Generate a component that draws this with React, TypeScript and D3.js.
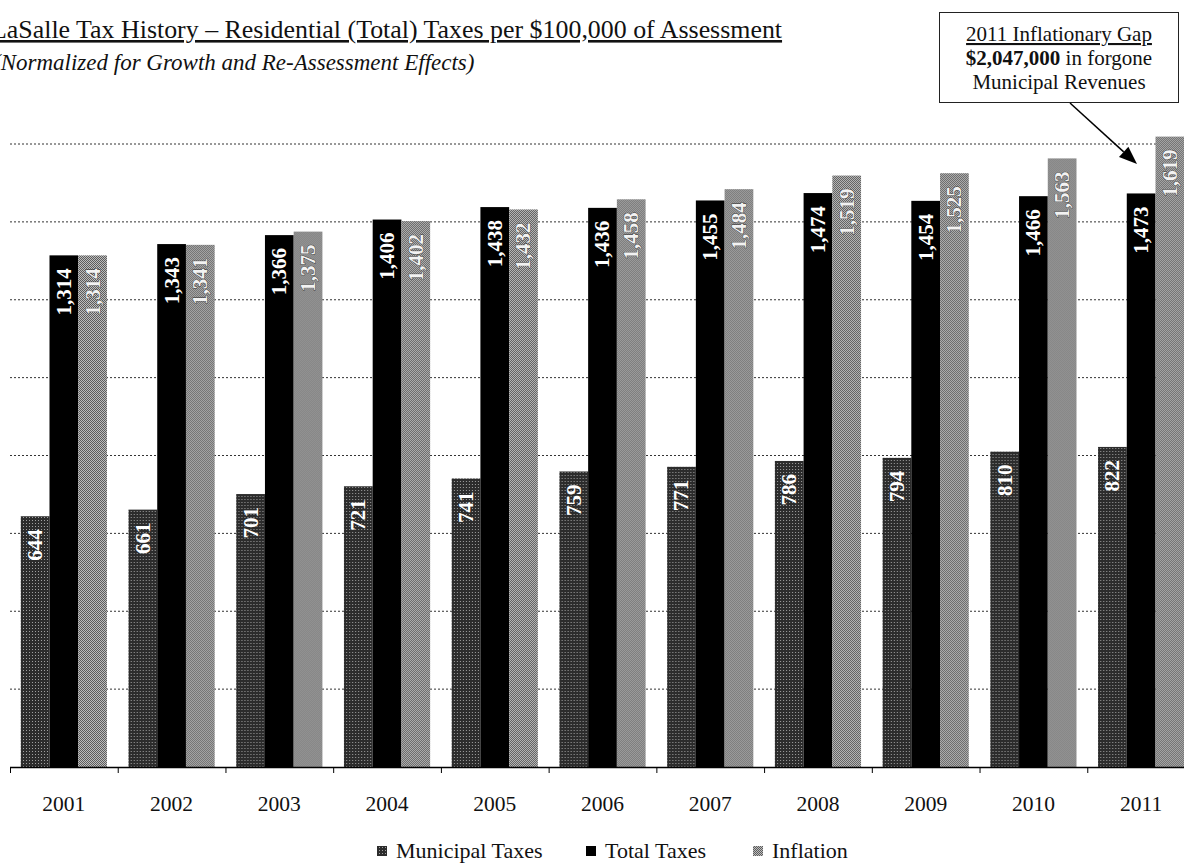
import React from 'react';
import * as d3 from 'd3';

const years = ['2001', '2002', '2003', '2004', '2005', '2006', '2007', '2008', '2009', '2010', '2011'];
const municipalTaxes = [644, 661, 701, 721, 741, 759, 771, 786, 794, 810, 822];
const totalTaxes = [1314, 1343, 1366, 1406, 1438, 1436, 1455, 1474, 1454, 1466, 1473];
const inflation = [1314, 1341, 1375, 1402, 1432, 1458, 1484, 1519, 1525, 1563, 1619];
const seriesNames = ['Municipal Taxes', 'Total Taxes', 'Inflation'];
const yTicks = [0, 200, 400, 600, 800, 1000, 1200, 1400, 1600];

const W = 1184;
const H = 863;
const FONT = '"Liberation Serif", "Times New Roman", serif';

export default function App() {
  const seriesValues = [municipalTaxes, totalTaxes, inflation];
  const fills = ['url(#patMun)', '#000', 'url(#patInf)'];
  const labelFill = ['#fff', '#fff', '#f2f2f2'];
  const labelStroke = ['none', 'none', '#333'];

  const x0 = d3.scaleBand<string>().domain(years).range([10, 1195]).paddingInner(0).paddingOuter(0);
  const bw = x0.bandwidth();
  const x1 = d3.scaleBand<string>().domain(seriesNames).range([bw * 0.1, bw * 0.9]).padding(0);
  const y = d3.scaleLinear().domain([0, 1600]).range([767, 144]);
  const fmt = d3.format(',');
  const labelSize = 21;
  const capH = labelSize * 0.66;

  // arrow geometry (annotation)
  const a0 = [1070, 103];
  const a1 = [1137, 164];
  const ang = Math.atan2(a1[1] - a0[1], a1[0] - a0[0]);
  const hl = 18, hw = 7;
  const bx = a1[0] - hl * Math.cos(ang);
  const by = a1[1] - hl * Math.sin(ang);
  const head = [
    [a1[0], a1[1]],
    [bx + hw * Math.sin(ang), by - hw * Math.cos(ang)],
    [bx - hw * Math.sin(ang), by + hw * Math.cos(ang)],
  ];

  const legendX = [377, 586, 753];

  return (
    <svg width={W} height={H} style={{ position: 'absolute', left: 0, top: 0, background: '#fff' }} fontFamily={FONT}>
      <defs>
        <pattern id="patMun" width="3" height="3" patternUnits="userSpaceOnUse">
          <rect width="3" height="3" fill="#2c2c2c" />
          <rect x="1" y="1" width="1" height="1" fill="#a0a0a0" />
        </pattern>
        <pattern id="patInf" width="2" height="2" patternUnits="userSpaceOnUse">
          <rect width="2" height="2" fill="#5c5c5c" />
          <rect x="1" y="0" width="1" height="1" fill="#bdbdbd" />
          <rect x="0" y="1" width="1" height="1" fill="#bdbdbd" />
        </pattern>
      </defs>
      <rect width={W} height={H} fill="#fff" />

      {/* Title */}
      <text x={-9} y={38} fontSize={25.9} fill="#111" textDecoration="underline">
        LaSalle Tax History – Residential (Total) Taxes per $100,000 of Assessment
      </text>
      <text x={-7} y={70} fontSize={23} fontStyle="italic" fill="#111">
        (Normalized for Growth and Re-Assessment Effects)
      </text>

      {/* gridlines */}
      {yTicks.slice(1).map((t) => (
        <line key={t} x1={10} x2={W} y1={y(t)} y2={y(t)} stroke="#333" strokeWidth={1} strokeDasharray="2,2" />
      ))}

      {/* bars */}
      {years.map((yr, i) => (
        <g key={yr} transform={`translate(${x0(yr)},0)`}>
          {seriesNames.map((s, k) => {
            const v = seriesValues[k][i];
            const bx0 = x1(s)!;
            const top = y(v);
            const cx = bx0 + x1.bandwidth() / 2;
            return (
              <g key={s}>
                <rect x={bx0} y={top} width={x1.bandwidth()} height={y(0) - top} fill={fills[k]} />
                <text
                  transform={`translate(${cx + capH / 2},${top + 13}) rotate(-90)`}
                  textAnchor="end"
                  fontSize={labelSize}
                  fontWeight="bold"
                  fill={labelFill[k]}
                  stroke={labelStroke[k]}
                  strokeWidth={labelStroke[k] === 'none' ? 0 : 0.8}
                  style={{ paintOrder: 'stroke' }}
                >
                  {fmt(v)}
                </text>
              </g>
            );
          })}
        </g>
      ))}

      {/* x axis */}
      <line x1={10} x2={W} y1={767.5} y2={767.5} stroke="#000" strokeWidth={1.5} />
      {years.map((yr) => (
        <line key={'t' + yr} x1={x0(yr)! + 0.5} x2={x0(yr)! + 0.5} y1={767} y2={773} stroke="#000" strokeWidth={1} />
      ))}
      {years.map((yr) => (
        <text key={'l' + yr} x={x0(yr)! + bw / 2} y={811} fontSize={21.5} textAnchor="middle" fill="#111">
          {yr}
        </text>
      ))}

      {/* legend */}
      {seriesNames.map((s, k) => (
        <g key={'lg' + s}>
          <rect x={legendX[k]} y={846} width={10} height={10} fill={fills[k]} />
          <text x={legendX[k] + 19} y={858} fontSize={22} fill="#111">
            {s}
          </text>
        </g>
      ))}

      {/* annotation */}
      <rect x={939.5} y={12.5} width={239} height={90} fill="#fff" stroke="#222" strokeWidth={1} />
      <text x={1059} y={41} fontSize={21} textAnchor="middle" fill="#111" textDecoration="underline">
        2011 Inflationary Gap
      </text>
      <text x={1059} y={65} fontSize={21} textAnchor="middle" fill="#111">
        <tspan fontWeight="bold">$2,047,000</tspan> in forgone
      </text>
      <text x={1059} y={89} fontSize={21} textAnchor="middle" fill="#111">
        Municipal Revenues
      </text>
      <line x1={a0[0]} y1={a0[1]} x2={bx} y2={by} stroke="#000" strokeWidth={1.5} />
      <polygon points={head.map((p) => p.join(',')).join(' ')} fill="#000" />
    </svg>
  );
}
